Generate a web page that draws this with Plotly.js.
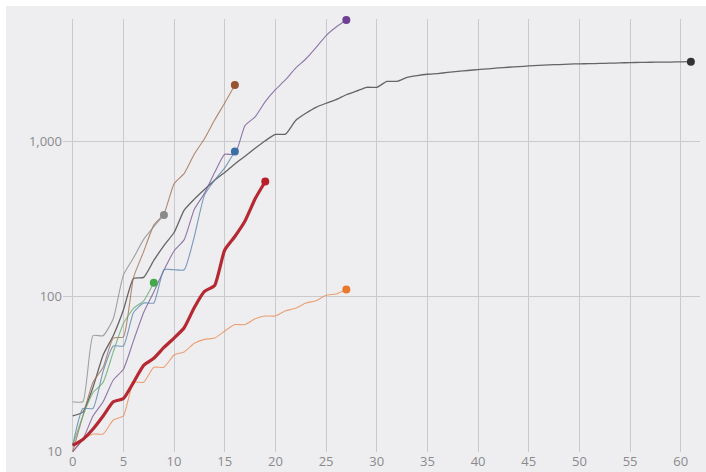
<!DOCTYPE html>
<html>
<head>
<meta charset="utf-8">
<script src="https://cdn.plot.ly/plotly-3.0.1.min.js"></script>
<style>
  html, body { margin: 0; padding: 0; background: #ffffff; }
  #chart { position: absolute; left: 6px; top: 6px; width: 700px; height: 466px; }
</style>
</head>
<body>
<div id="chart"></div>
<script>
// Cumulative counts by days since roughly the 10th count
const china   = [17, 18, 26, 42, 56, 82, 131, 133, 171, 213, 259, 361, 425, 490, 562, 632, 717, 804, 904, 1011,
                 1111, 1116, 1368, 1520, 1662, 1765, 1863, 2002, 2114, 2236, 2236, 2441, 2443, 2593, 2663, 2715,
                 2744, 2788, 2835, 2870, 2912, 2943, 2981, 3012, 3042, 3070, 3097, 3119, 3136, 3158, 3169, 3176,
                 3189, 3199, 3213, 3226, 3237, 3245, 3248, 3255, 3261, 3270];
const italy   = [10, 12, 17, 21, 29, 34, 52, 79, 107, 148, 197, 233, 366, 463, 631, 827, 827, 1266, 1441, 1809,
                 2158, 2503, 2978, 3405, 4032, 4825, 5476, 6077];
const spain   = [10, 17, 28, 35, 54, 55, 133, 195, 289, 342, 533, 623, 830, 1043, 1375, 1772, 2311];
const france  = [11, 19, 19, 33, 48, 48, 79, 91, 91, 149, 149, 149, 244, 451, 563, 676, 862];
const uk      = [21, 21, 56, 56, 72, 138, 178, 234, 282, 336];
const germany = [11, 17, 24, 28, 44, 67, 84, 94, 123];
const us      = [11, 12, 14, 17, 21, 22, 28, 36, 40, 47, 54, 63, 85, 108, 118, 200, 244, 307, 427, 552];
const korea   = [10, 12, 13, 13, 16, 17, 28, 28, 35, 35, 42, 44, 50, 53, 54, 60, 66, 66, 72, 75, 75, 81, 84,
                 91, 94, 102, 104, 111];

const xTicks  = [0, 5, 10, 15, 20, 25, 30, 35, 40, 45, 50, 55, 60];
const yTicks  = [10, 100, 1000];
const yLabels = ['10', '100', '1,000'];

function days(arr) { return arr.map((_, i) => i); }

const series = [
  { data: china,   line: 'rgba(85,85,88,0.9)',    marker: '#333335', width: 1.3 },
  { data: korea,   line: 'rgba(236,140,85,0.8)',  marker: '#e8782e', width: 1.1 },
  { data: italy,   line: 'rgba(118,88,150,0.8)',  marker: '#6e3f92', width: 1.1 },
  { data: spain,   line: 'rgba(160,110,80,0.8)',  marker: '#97532f', width: 1.1 },
  { data: france,  line: 'rgba(90,130,175,0.8)',  marker: '#3c6ea6', width: 1.1 },
  { data: uk,      line: 'rgba(140,140,140,0.8)', marker: '#8a8a8a', width: 1.1 },
  { data: germany, line: 'rgba(100,170,110,0.8)', marker: '#44a84a', width: 1.1 },
  { data: us,      line: 'rgba(178,30,40,0.95)',  marker: '#b81e2a', width: 3.2 }
];

const traces = [];
series.forEach(s => {
  traces.push({
    x: days(s.data), y: s.data, type: 'scatter', mode: 'lines',
    line: { color: s.line, width: s.width, shape: 'spline', smoothing: 0.5 },
    hoverinfo: 'skip', showlegend: false
  });
});
series.forEach(s => {
  const n = s.data.length - 1;
  traces.push({
    x: [n], y: [s.data[n]], type: 'scatter', mode: 'markers',
    marker: { color: s.marker, size: 8 },
    cliponaxis: false, hoverinfo: 'skip', showlegend: false
  });
});

const layout = {
  width: 700, height: 466,
  margin: { l: 57, r: 6, t: 13, b: 20, pad: 0 },
  paper_bgcolor: '#eeeef0',
  plot_bgcolor: '#eeeef0',
  font: { family: 'Open Sans, Liberation Sans, sans-serif', size: 13, color: '#8a8a8c' },
  xaxis: {
    range: [-0.96, 61.9],
    tickmode: 'array', tickvals: xTicks,
    showgrid: true, gridcolor: '#cacace', gridwidth: 1,
    zeroline: false, showline: false, ticks: '',
    tickfont: { size: 13, color: '#8a8a8c' }
  },
  yaxis: {
    type: 'log',
    range: [0.998, 3.79],
    tickmode: 'array', tickvals: yTicks, ticktext: yLabels,
    showgrid: true, gridcolor: '#cacace', gridwidth: 1,
    zeroline: false, showline: false, ticks: '',
    tickfont: { size: 13, color: '#8a8a8c' }
  }
};

Plotly.newPlot('chart', traces, layout, { staticPlot: true, displayModeBar: false });
</script>
</body>
</html>
